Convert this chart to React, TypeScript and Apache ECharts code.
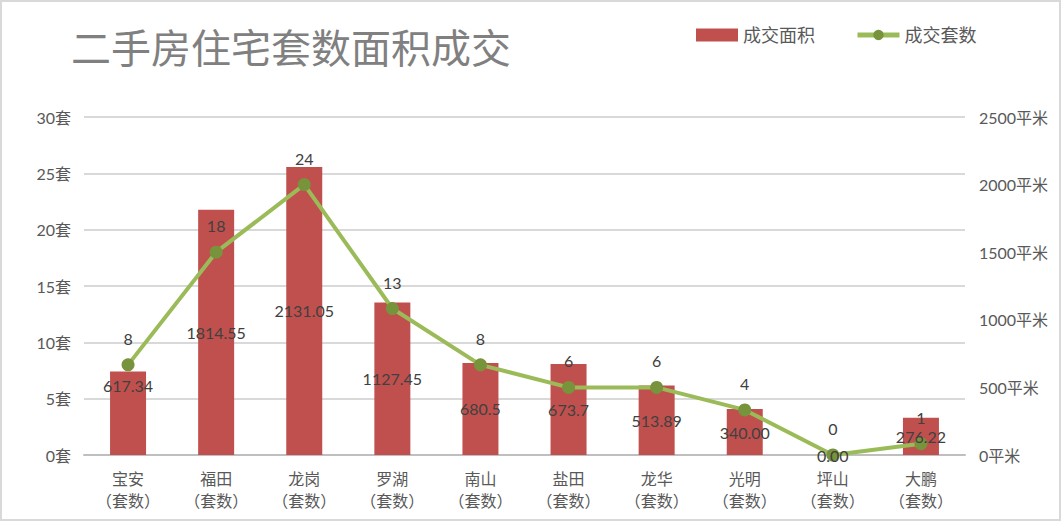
import React, { useEffect, useRef } from "react";
import * as echarts from "echarts";

const categories = ["宝安", "福田", "龙岗", "罗湖", "南山", "盐田", "龙华", "光明", "坪山", "大鹏"];
const areaText = ["617.34", "1814.55", "2131.05", "1127.45", "680.5", "673.7", "513.89", "340.00", "0.00", "276.22"];
const counts = [8, 18, 24, 13, 8, 6, 6, 4, 0, 1];
const leftTicks = [0, 30, 5];
const rightTicks = [0, 2500, 500];

const FONT = 'Lato, "Noto Sans CJK SC", sans-serif';

export default function App() {
  const ref = useRef<HTMLDivElement>(null);
  useEffect(() => {
    if (!ref.current) return;
    const chart = echarts.init(ref.current, undefined, { renderer: "svg" });
    const areaValues = areaText.map(Number);
    chart.setOption({
      animation: false,
      backgroundColor: "#ffffff",
      title: {
        text: "二手房住宅套数面积成交",
        left: 66,
        top: 19,
        textStyle: {
          fontFamily: '"Noto Sans CJK SC", sans-serif',
          fontWeight: "normal",
          fontSize: 40,
          lineHeight: 44,
          color: "#808080",
        },
      },
      legend: {
        left: 691,
        top: 21,
        itemWidth: 42,
        itemHeight: 13,
        itemGap: 40,
        textStyle: { fontFamily: FONT, fontSize: 18, color: "#595959" },
        data: [
          { name: "成交面积", icon: "rect" },
          { name: "成交套数", lineStyle: { width: 5, color: "#9BBB59" } },
        ],
      },
      graphic: [
        {
          type: "rect",
          shape: { x: 1, y: 1, width: 1059, height: 519 },
          style: { fill: "none", stroke: "#D9D9D9", lineWidth: 2 },
          silent: true,
        },
      ],
      grid: { left: 84, right: 99, top: 117, bottom: 68 },
      xAxis: {
        type: "category",
        data: categories,
        axisTick: { show: false },
        axisLine: { lineStyle: { color: "#BFBFBF", width: 2 } },
        axisLabel: {
          margin: 12,
          fontFamily: FONT,
          fontSize: 16,
          lineHeight: 22,
          color: "#595959",
          formatter: (v: string) => v + "\n（套数）",
        },
      },
      yAxis: [
        {
          type: "value",
          min: leftTicks[0],
          max: leftTicks[1],
          interval: leftTicks[2],
          axisLine: { show: false },
          axisTick: { show: false },
          splitLine: { lineStyle: { color: "#D9D9D9", width: 2 } },
          axisLabel: {
            margin: 13,
            fontFamily: FONT,
            fontSize: 16,
            color: "#595959",
            formatter: (v: number) => v + "套",
          },
        },
        {
          type: "value",
          min: rightTicks[0],
          max: rightTicks[1],
          interval: rightTicks[2],
          axisLine: { show: false },
          axisTick: { show: false },
          splitLine: { show: false },
          axisLabel: {
            margin: 14,
            fontFamily: FONT,
            fontSize: 16,
            color: "#595959",
            formatter: (v: number) => v + "平米",
          },
        },
      ],
      series: [
        {
          name: "成交面积",
          type: "bar",
          yAxisIndex: 1,
          barWidth: 36,
          itemStyle: { color: "#C0504D" },
          z: 2,
          data: areaValues,
        },
        {
          name: "成交套数",
          type: "line",
          yAxisIndex: 0,
          z: 3,
          symbol: "circle",
          symbolSize: 13,
          lineStyle: { color: "#9BBB59", width: 4 },
          itemStyle: { color: "#77933C" },
          label: {
            show: true,
            position: "top",
            distance: 12,
            fontFamily: FONT,
            fontSize: 16,
            color: "#404040",
          },
          data: counts,
        },
        {
          name: "面积标签",
          type: "bar",
          yAxisIndex: 1,
          barWidth: 36,
          barGap: "-100%",
          z: 5,
          silent: true,
          itemStyle: { color: "rgba(0,0,0,0)" },
          label: {
            show: true,
            position: "inside",
            fontFamily: FONT,
            fontSize: 16,
            color: "#404040",
            formatter: (p: any) => areaText[p.dataIndex],
          },
          data: areaValues.map((v, i) =>
            i === 0 ? { value: v, label: { offset: [0, -28] } } : v
          ),
        },
      ],
    });
    return () => chart.dispose();
  }, []);
  return (
    <div
      ref={ref}
      style={{ position: "fixed", left: 0, top: 0, width: 1064, height: 523 }}
    />
  );
}
